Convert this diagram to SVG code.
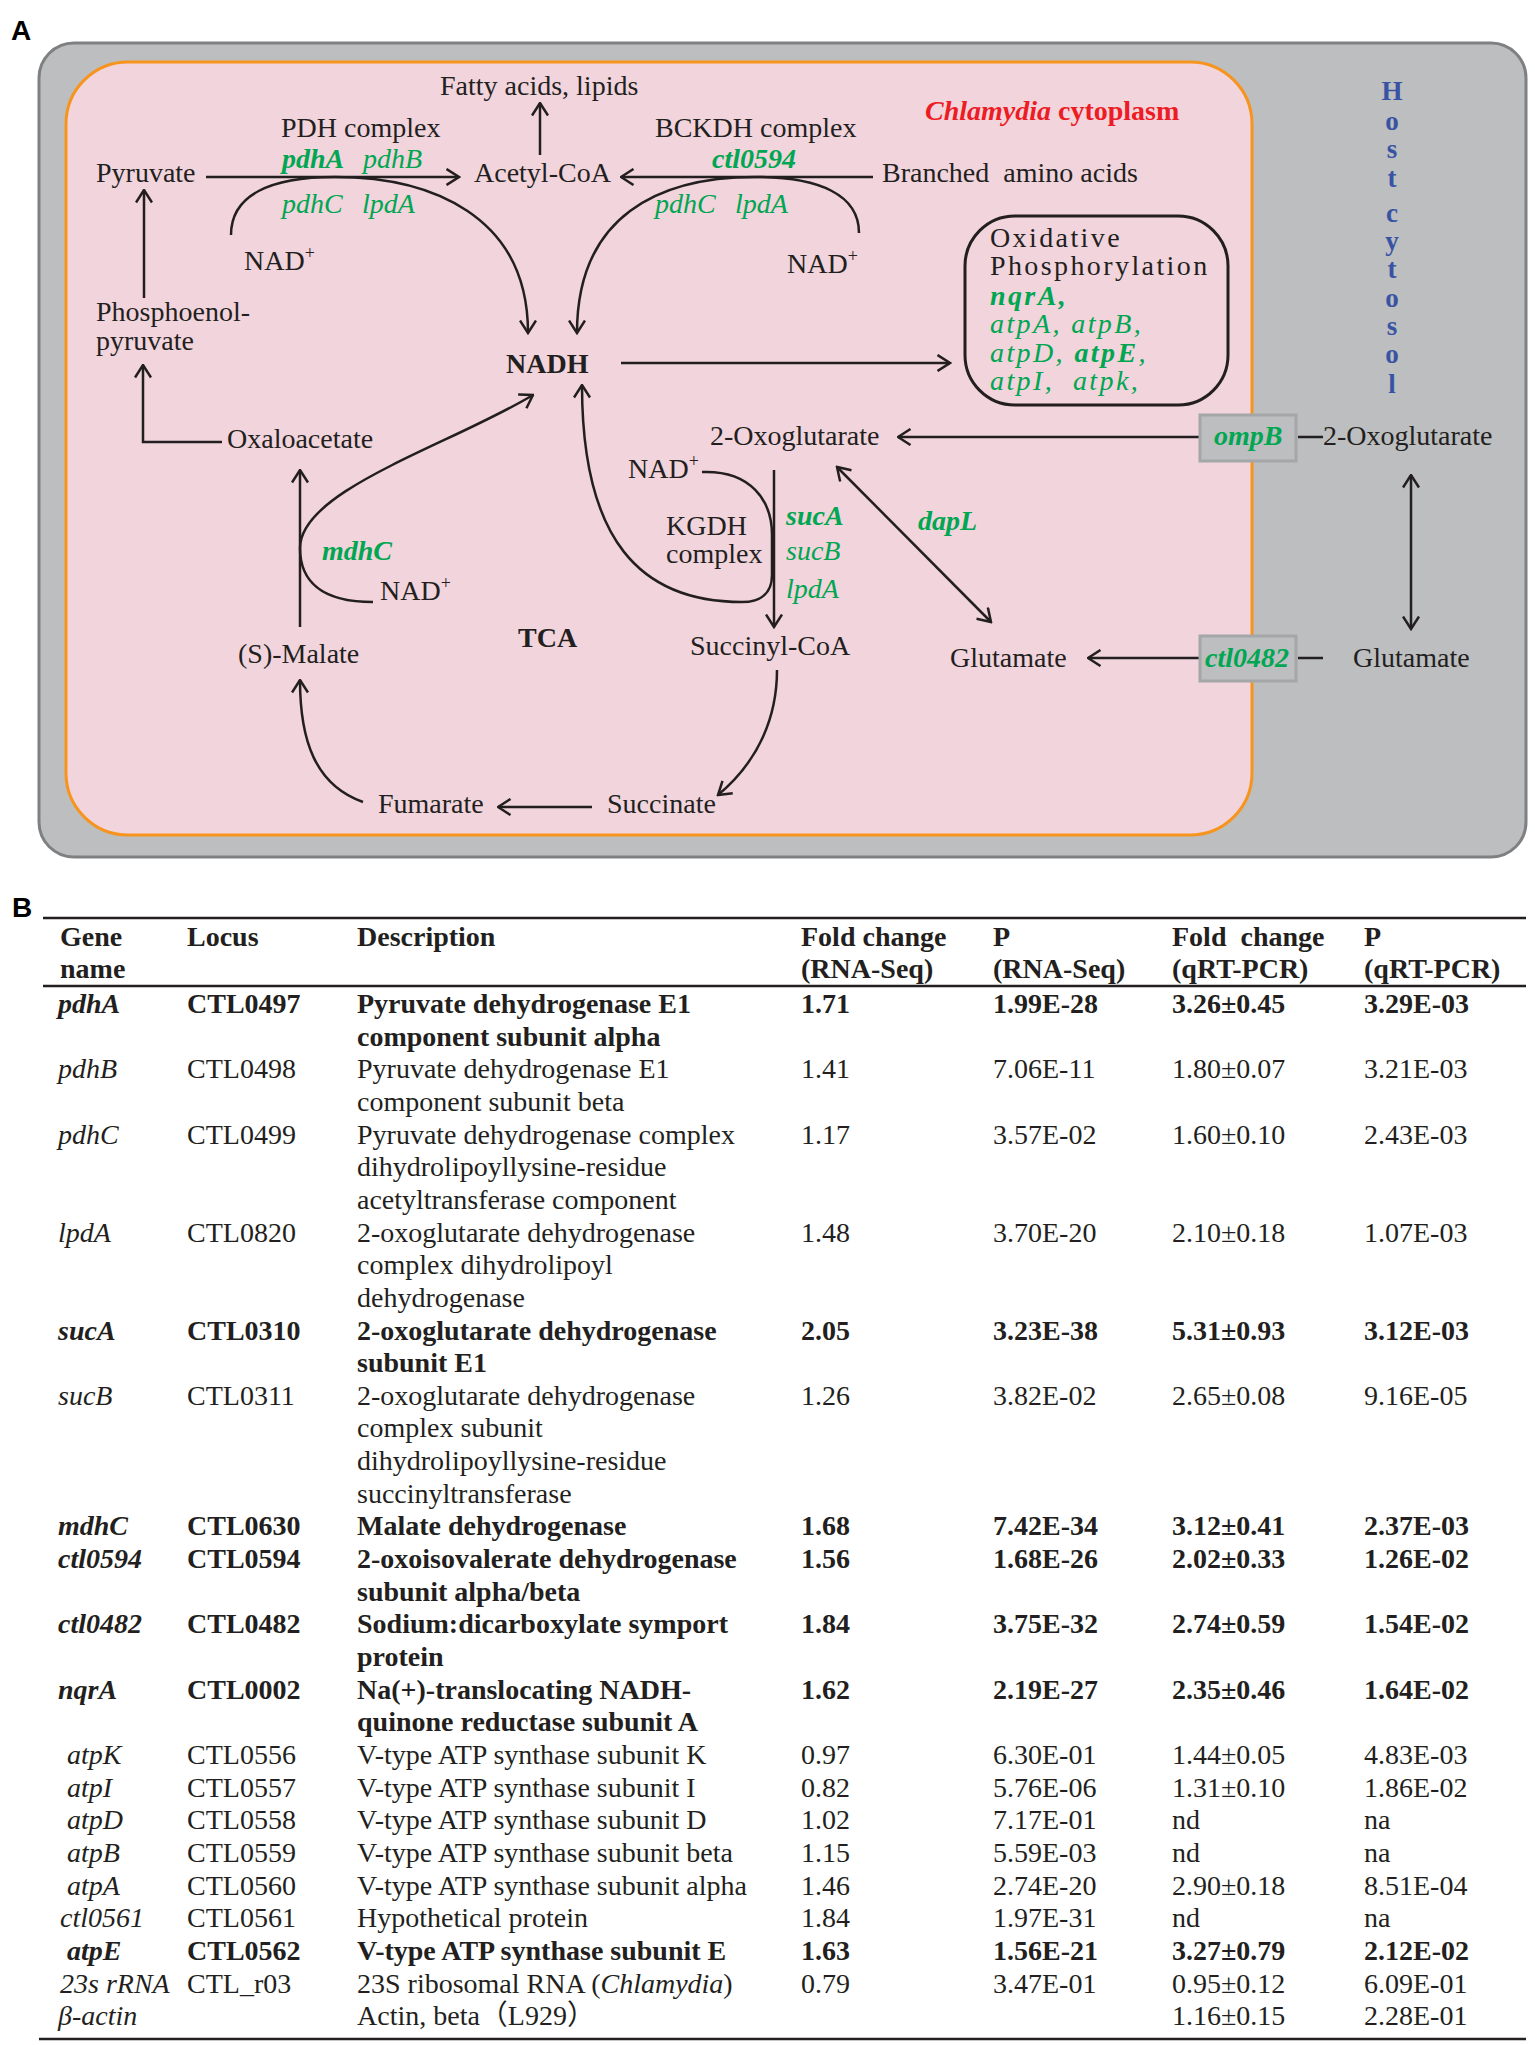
<svg xmlns="http://www.w3.org/2000/svg" width="1535" height="2045" viewBox="0 0 1535 2045">
<style>
.t{font-family:"Liberation Serif","Times New Roman",serif;font-size:28px;fill:#231f20}
.b{font-weight:bold}
.i{font-style:italic}
.g{fill:#00a651}
.r{fill:#ed1c24}
.hc{fill:#3953a4;font-weight:bold;font-size:27px}
.box{letter-spacing:2.4px}
.lab{font-family:"Liberation Sans",Arial,sans-serif;font-weight:bold;font-size:28px;fill:#000}
.ln{stroke:#231f20;stroke-width:2.5;fill:none}
.rule{stroke:#231f20;stroke-width:2.5}
.sup{font-size:18px}
</style>
<defs>
<marker id="ah" viewBox="0 0 15 18" refX="13.5" refY="9" markerWidth="15" markerHeight="18" markerUnits="userSpaceOnUse" orient="auto-start-reverse">
<path d="M1,1 L13.5,9 L1,17" fill="none" stroke="#231f20" stroke-width="2.5"/>
</marker>
</defs>
<rect width="1535" height="2045" fill="#ffffff"/>
<text class="lab" x="11" y="40">A</text>
<g id="host">
<rect x="39" y="43" width="1487" height="814" rx="35" fill="#bcbec0" stroke="#7f8081" stroke-width="3"/>
</g>
<g id="cytoplasm">
<rect x="66" y="62" width="1186" height="773" rx="62" fill="#f1d4dc" stroke="#f7941d" stroke-width="3"/>
<text class="t b r" x="925" y="120"><tspan class="i">Chlamydia</tspan> cytoplasm</text>
</g>
<g id="host-cytosol-label">
<text class="t hc" text-anchor="middle" x="1392" y="100">H</text>
<text class="t hc" text-anchor="middle" x="1392" y="130">o</text>
<text class="t hc" text-anchor="middle" x="1392" y="158">s</text>
<text class="t hc" text-anchor="middle" x="1392" y="187">t</text>
<text class="t hc" text-anchor="middle" x="1392" y="222">c</text>
<text class="t hc" text-anchor="middle" x="1392" y="250">y</text>
<text class="t hc" text-anchor="middle" x="1392" y="278">t</text>
<text class="t hc" text-anchor="middle" x="1392" y="307">o</text>
<text class="t hc" text-anchor="middle" x="1392" y="335">s</text>
<text class="t hc" text-anchor="middle" x="1392" y="363">o</text>
<text class="t hc" text-anchor="middle" x="1392" y="393">l</text>
</g>
<g id="connectors">
<path class="ln" d="M206,177 H459" marker-end="url(#ah)"/>
<path class="ln" d="M540,155 V103" marker-end="url(#ah)"/>
<path class="ln" d="M873,177 H621" marker-end="url(#ah)"/>
<path class="ln" d="M231,235 C231,195 270,177 335,177 C430,177 528,215 528,333" marker-end="url(#ah)"/>
<path class="ln" d="M859,233 C859,195 820,177 755,177 C660,177 577,215 577,333" marker-end="url(#ah)"/>
<path class="ln" d="M621,363 H950" marker-end="url(#ah)"/>
<path class="ln" d="M1200,437 H898" marker-end="url(#ah)"/>
<path class="ln" d="M1298,437 H1323"/>
<path class="ln" d="M1411,475 V629" marker-start="url(#ah)" marker-end="url(#ah)"/>
<path class="ln" d="M1200,658 H1088" marker-end="url(#ah)"/>
<path class="ln" d="M1298,658 H1323"/>
<path class="ln" d="M837,467 L991,622" marker-start="url(#ah)" marker-end="url(#ah)"/>
<path class="ln" d="M774,470 V627" marker-end="url(#ah)"/>
<path class="ln" d="M702,472 C750,470 772,500 772,535 L772,575 C772,592 762,602 742,602 C640,602 582,540 582,385" marker-end="url(#ah)"/>
<path class="ln" d="M373,602 C320,602 300,580 300,548 C300,490 450,445 533,395" marker-end="url(#ah)"/>
<path class="ln" d="M300,627 V470" marker-end="url(#ah)"/>
<path class="ln" d="M222,442 H143 V365" marker-end="url(#ah)"/>
<path class="ln" d="M144,298 V190" marker-end="url(#ah)"/>
<path class="ln" d="M592,807 H498" marker-end="url(#ah)"/>
<path class="ln" d="M363,802 C315,785 300,740 300,680" marker-end="url(#ah)"/>
<path class="ln" d="M777,670 C777,715 760,760 718,795" marker-end="url(#ah)"/>
</g>
<g id="fatty-acids"><text class="t" x="440" y="95">Fatty acids, lipids</text></g>
<g id="pdh"><text class="t" x="281" y="137">PDH complex</text>
<text class="t b i g" x="282" y="168">pdhA</text><text class="t i g" x="363" y="168">pdhB</text>
<text class="t i g" x="282" y="213">pdhC</text><text class="t i g" x="362" y="213">lpdA</text></g>
<g id="pyruvate"><text class="t" x="96" y="182">Pyruvate</text></g>
<g id="acetyl-coa"><text class="t" x="474" y="182">Acetyl-CoA</text></g>
<g id="bckdh"><text class="t" x="655" y="137">BCKDH complex</text>
<text class="t b i g" x="712" y="168">ctl0594</text>
<text class="t i g" x="655" y="213">pdhC</text><text class="t i g" x="735" y="213">lpdA</text></g>
<g id="branched"><text class="t" x="882" y="182" xml:space="preserve">Branched  amino acids</text></g>
<g id="nad1"><text class="t" x="244" y="270">NAD<tspan class="sup" dy="-11">+</tspan></text></g>
<g id="nad2"><text class="t" x="787" y="273">NAD<tspan class="sup" dy="-11">+</tspan></text></g>
<g id="nadh"><text class="t b" x="506" y="373">NADH</text></g>
<g id="oxphos">
<rect x="965" y="216" width="263" height="189" rx="50" fill="none" stroke="#231f20" stroke-width="3"/>
<text class="t box" x="990" y="247">Oxidative</text>
<text class="t box" x="990" y="275">Phosphorylation</text>
<text class="t box b i g" x="990" y="305">nqrA,</text>
<text class="t box i g" x="990" y="333">atpA, atpB,</text>
<text class="t box i g" x="990" y="362">atpD, <tspan class="b">atpE</tspan>,</text>
<text class="t box i g" x="990" y="390" xml:space="preserve">atpI,  atpk,</text>
</g>
<g id="pep"><text class="t" x="96" y="321">Phosphoenol-</text><text class="t" x="96" y="350">pyruvate</text></g>
<g id="oxaloacetate"><text class="t" x="227" y="448">Oxaloacetate</text></g>
<g id="oxoglutarate"><text class="t" x="710" y="445">2-Oxoglutarate</text></g>
<g id="kgdh"><text class="t" x="628" y="478">NAD<tspan class="sup" dy="-11">+</tspan></text>
<text class="t" x="666" y="535">KGDH</text><text class="t" x="666" y="563">complex</text>
<text class="t b i g" x="786" y="525">sucA</text><text class="t i g" x="786" y="560">sucB</text><text class="t i g" x="786" y="598">lpdA</text></g>
<g id="dapl"><text class="t b i g" x="918" y="530">dapL</text></g>
<g id="mdhc"><text class="t b i g" x="322" y="560">mdhC</text><text class="t" x="380" y="600">NAD<tspan class="sup" dy="-11">+</tspan></text></g>
<g id="tca"><text class="t b" x="518" y="647">TCA</text></g>
<g id="malate"><text class="t" x="238" y="663">(S)-Malate</text></g>
<g id="succinyl-coa"><text class="t" x="690" y="655">Succinyl-CoA</text></g>
<g id="glutamate"><text class="t" x="950" y="667">Glutamate</text></g>
<g id="fumarate"><text class="t" x="378" y="813">Fumarate</text></g>
<g id="succinate"><text class="t" x="607" y="813">Succinate</text></g>
<g id="ompb"><rect x="1200" y="415" width="96" height="46" fill="#bcbec0" stroke="#a4a6a8" stroke-width="3"/><text class="t b i g" x="1214" y="445">ompB</text></g>
<g id="host-oxoglutarate"><text class="t" x="1323" y="445">2-Oxoglutarate</text></g>
<g id="ctl0482"><rect x="1200" y="636" width="96" height="45" fill="#bcbec0" stroke="#a4a6a8" stroke-width="3"/><text class="t b i g" x="1205" y="667">ctl0482</text></g>
<g id="host-glutamate"><text class="t" x="1353" y="667">Glutamate</text></g>

<text class="lab" x="12" y="917">B</text>
<g id="table">
<line class="rule" x1="43" y1="918" x2="1526" y2="918"/>
<line class="rule" x1="43" y1="986" x2="1526" y2="986"/>
<line class="rule" x1="39" y1="2039" x2="1526" y2="2039"/>
<g class="t b">
<text class="t b" x="60" y="946">Gene</text><text class="t b" x="60" y="978">name</text>
<text class="t b" x="187" y="946">Locus</text>
<text class="t b" x="357" y="946">Description</text>
<text class="t b" x="801" y="946">Fold change</text><text class="t b" x="801" y="978">(RNA-Seq)</text>
<text class="t b" x="993" y="946">P</text><text class="t b" x="993" y="978">(RNA-Seq)</text>
<text class="t b" x="1172" y="946" xml:space="preserve">Fold  change</text><text class="t b" x="1172" y="978">(qRT-PCR)</text>
<text class="t b" x="1364" y="946">P</text><text class="t b" x="1364" y="978">(qRT-PCR)</text>
</g>
<!-- pdhA -->
<text class="t b i" x="58" y="1013">pdhA</text><text class="t b" x="187" y="1013">CTL0497</text><text class="t b" x="357" y="1013">Pyruvate dehydrogenase E1</text>
<text class="t b" x="801" y="1013">1.71</text><text class="t b" x="993" y="1013">1.99E-28</text><text class="t b" x="1172" y="1013">3.26±0.45</text><text class="t b" x="1364" y="1013">3.29E-03</text>
<text class="t b" x="357" y="1046">component subunit alpha</text>
<!-- pdhB -->
<text class="t i" x="58" y="1078">pdhB</text><text class="t" x="187" y="1078">CTL0498</text><text class="t" x="357" y="1078">Pyruvate dehydrogenase E1</text>
<text class="t" x="801" y="1078">1.41</text><text class="t" x="993" y="1078">7.06E-11</text><text class="t" x="1172" y="1078">1.80±0.07</text><text class="t" x="1364" y="1078">3.21E-03</text>
<text class="t" x="357" y="1111">component subunit beta</text>
<!-- pdhC -->
<text class="t i" x="58" y="1144">pdhC</text><text class="t" x="187" y="1144">CTL0499</text><text class="t" x="357" y="1144">Pyruvate dehydrogenase complex</text>
<text class="t" x="801" y="1144">1.17</text><text class="t" x="993" y="1144">3.57E-02</text><text class="t" x="1172" y="1144">1.60±0.10</text><text class="t" x="1364" y="1144">2.43E-03</text>
<text class="t" x="357" y="1176">dihydrolipoyllysine-residue</text>
<text class="t" x="357" y="1209">acetyltransferase component</text>
<!-- lpdA -->
<text class="t i" x="58" y="1242">lpdA</text><text class="t" x="187" y="1242">CTL0820</text><text class="t" x="357" y="1242">2-oxoglutarate dehydrogenase</text>
<text class="t" x="801" y="1242">1.48</text><text class="t" x="993" y="1242">3.70E-20</text><text class="t" x="1172" y="1242">2.10±0.18</text><text class="t" x="1364" y="1242">1.07E-03</text>
<text class="t" x="357" y="1274">complex dihydrolipoyl</text>
<text class="t" x="357" y="1307">dehydrogenase</text>
<!-- sucA -->
<text class="t b i" x="58" y="1340">sucA</text><text class="t b" x="187" y="1340">CTL0310</text><text class="t b" x="357" y="1340">2-oxoglutarate dehydrogenase</text>
<text class="t b" x="801" y="1340">2.05</text><text class="t b" x="993" y="1340">3.23E-38</text><text class="t b" x="1172" y="1340">5.31±0.93</text><text class="t b" x="1364" y="1340">3.12E-03</text>
<text class="t b" x="357" y="1372">subunit E1</text>
<!-- sucB -->
<text class="t i" x="58" y="1405">sucB</text><text class="t" x="187" y="1405">CTL0311</text><text class="t" x="357" y="1405">2-oxoglutarate dehydrogenase</text>
<text class="t" x="801" y="1405">1.26</text><text class="t" x="993" y="1405">3.82E-02</text><text class="t" x="1172" y="1405">2.65±0.08</text><text class="t" x="1364" y="1405">9.16E-05</text>
<text class="t" x="357" y="1437">complex subunit</text>
<text class="t" x="357" y="1470">dihydrolipoyllysine-residue</text>
<text class="t" x="357" y="1503">succinyltransferase</text>
<!-- mdhC -->
<text class="t b i" x="58" y="1535">mdhC</text><text class="t b" x="187" y="1535">CTL0630</text><text class="t b" x="357" y="1535">Malate dehydrogenase</text>
<text class="t b" x="801" y="1535">1.68</text><text class="t b" x="993" y="1535">7.42E-34</text><text class="t b" x="1172" y="1535">3.12±0.41</text><text class="t b" x="1364" y="1535">2.37E-03</text>
<!-- ctl0594 -->
<text class="t b i" x="58" y="1568">ctl0594</text><text class="t b" x="187" y="1568">CTL0594</text><text class="t b" x="357" y="1568">2-oxoisovalerate dehydrogenase</text>
<text class="t b" x="801" y="1568">1.56</text><text class="t b" x="993" y="1568">1.68E-26</text><text class="t b" x="1172" y="1568">2.02±0.33</text><text class="t b" x="1364" y="1568">1.26E-02</text>
<text class="t b" x="357" y="1601">subunit alpha/beta</text>
<!-- ctl0482 -->
<text class="t b i" x="58" y="1633">ctl0482</text><text class="t b" x="187" y="1633">CTL0482</text><text class="t b" x="357" y="1633">Sodium:dicarboxylate symport</text>
<text class="t b" x="801" y="1633">1.84</text><text class="t b" x="993" y="1633">3.75E-32</text><text class="t b" x="1172" y="1633">2.74±0.59</text><text class="t b" x="1364" y="1633">1.54E-02</text>
<text class="t b" x="357" y="1666">protein</text>
<!-- nqrA -->
<text class="t b i" x="58" y="1699">nqrA</text><text class="t b" x="187" y="1699">CTL0002</text><text class="t b" x="357" y="1699">Na(+)-translocating NADH-</text>
<text class="t b" x="801" y="1699">1.62</text><text class="t b" x="993" y="1699">2.19E-27</text><text class="t b" x="1172" y="1699">2.35±0.46</text><text class="t b" x="1364" y="1699">1.64E-02</text>
<text class="t b" x="357" y="1731">quinone reductase subunit A</text>
<!-- atp -->
<text class="t i" x="67" y="1764">atpK</text><text class="t" x="187" y="1764">CTL0556</text><text class="t" x="357" y="1764">V-type ATP synthase subunit K</text>
<text class="t" x="801" y="1764">0.97</text><text class="t" x="993" y="1764">6.30E-01</text><text class="t" x="1172" y="1764">1.44±0.05</text><text class="t" x="1364" y="1764">4.83E-03</text>
<text class="t i" x="67" y="1797">atpI</text><text class="t" x="187" y="1797">CTL0557</text><text class="t" x="357" y="1797">V-type ATP synthase subunit I</text>
<text class="t" x="801" y="1797">0.82</text><text class="t" x="993" y="1797">5.76E-06</text><text class="t" x="1172" y="1797">1.31±0.10</text><text class="t" x="1364" y="1797">1.86E-02</text>
<text class="t i" x="67" y="1829">atpD</text><text class="t" x="187" y="1829">CTL0558</text><text class="t" x="357" y="1829">V-type ATP synthase subunit D</text>
<text class="t" x="801" y="1829">1.02</text><text class="t" x="993" y="1829">7.17E-01</text><text class="t" x="1172" y="1829">nd</text><text class="t" x="1364" y="1829">na</text>
<text class="t i" x="67" y="1862">atpB</text><text class="t" x="187" y="1862">CTL0559</text><text class="t" x="357" y="1862">V-type ATP synthase subunit beta</text>
<text class="t" x="801" y="1862">1.15</text><text class="t" x="993" y="1862">5.59E-03</text><text class="t" x="1172" y="1862">nd</text><text class="t" x="1364" y="1862">na</text>
<text class="t i" x="67" y="1895">atpA</text><text class="t" x="187" y="1895">CTL0560</text><text class="t" x="357" y="1895">V-type ATP synthase subunit alpha</text>
<text class="t" x="801" y="1895">1.46</text><text class="t" x="993" y="1895">2.74E-20</text><text class="t" x="1172" y="1895">2.90±0.18</text><text class="t" x="1364" y="1895">8.51E-04</text>
<text class="t i" x="60" y="1927">ctl0561</text><text class="t" x="187" y="1927">CTL0561</text><text class="t" x="357" y="1927">Hypothetical protein</text>
<text class="t" x="801" y="1927">1.84</text><text class="t" x="993" y="1927">1.97E-31</text><text class="t" x="1172" y="1927">nd</text><text class="t" x="1364" y="1927">na</text>
<text class="t b i" x="67" y="1960">atpE</text><text class="t b" x="187" y="1960">CTL0562</text><text class="t b" x="357" y="1960">V-type ATP synthase subunit E</text>
<text class="t b" x="801" y="1960">1.63</text><text class="t b" x="993" y="1960">1.56E-21</text><text class="t b" x="1172" y="1960">3.27±0.79</text><text class="t b" x="1364" y="1960">2.12E-02</text>
<text class="t i" x="60" y="1993">23s rRNA</text><text class="t" x="187" y="1993">CTL_r03</text><text class="t" x="357" y="1993">23S ribosomal RNA (<tspan class="i">Chlamydia</tspan>)</text>
<text class="t" x="801" y="1993">0.79</text><text class="t" x="993" y="1993">3.47E-01</text><text class="t" x="1172" y="1993">0.95±0.12</text><text class="t" x="1364" y="1993">6.09E-01</text>
<text class="t i" x="58" y="2025">β-actin</text><text class="t" x="357" y="2025" style="font-family:'Liberation Serif','Noto Sans CJK SC',serif">Actin, beta（L929）</text>
<text class="t" x="1172" y="2025">1.16±0.15</text><text class="t" x="1364" y="2025">2.28E-01</text>
</g>
</svg>
